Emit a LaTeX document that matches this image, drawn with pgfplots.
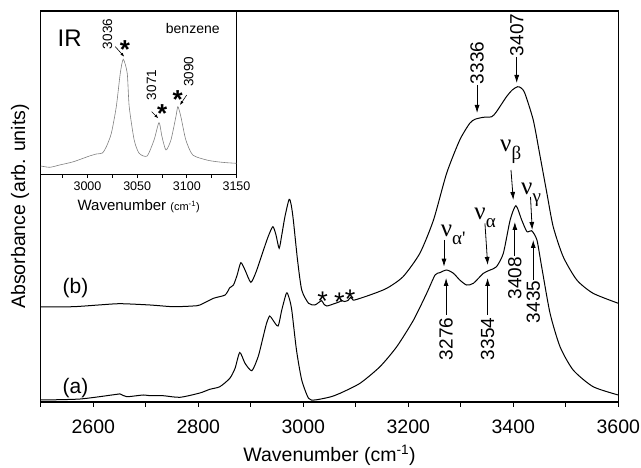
\documentclass[border=0pt]{standalone}
\usepackage{fontspec}
\setmainfont{Liberation Sans}
\newfontfamily\greekfont{Liberation Serif}
\usepackage{pgfplots}
\pgfplotsset{compat=1.18}
\usetikzlibrary{arrows.meta}

% sizes are in pt, one pt for one pixel of the reference
\newcommand{\fs}[1]{\fontsize{#1}{#1}\selectfont}
\newcommand{\nuf}[2]{{\greekfont\fs{25}ν}\raisebox{-8pt}{\greekfont\fs{19}#1}#2}

\begin{document}
\begin{tikzpicture}[x=1pt,y=1pt,
  arr/.style={line width=0.8pt, -{Latex[length=8pt,width=5pt]}},
  iarr/.style={line width=0.6pt, -{Latex[length=4pt,width=3pt]}}]
\path[use as bounding box] (0,0) rectangle (641,468);

\begin{axis}[
  at={(40.8pt,66pt)}, anchor=south west,
  width=577.5pt, height=391pt, scale only axis,
  xmin=2500, xmax=3600, ymin=0, ymax=391,
  xtick={2600,2800,...,3600},
  minor xtick={2500,2700,...,3500},
  xtick pos=bottom, ytick=\empty,
  tick align=outside,
  major tick length=5pt, minor tick length=5pt,
  every tick/.style={black, line width=1pt},
  axis line style={line width=1.2pt},
  ticklabel style={font=\fs{19.5}},
  xticklabel style={yshift=-9pt},
  /pgf/number format/assume math mode=true,
  /pgf/number format/1000 sep={},
  xlabel={Wavenumber (cm\textsuperscript{-1})},
  ylabel={Absorbance (arb. units)},
  label style={font=\fs{19.5}},
  xlabel style={at={(axis description cs:0.5,-0.136)}, anchor=center},
  ylabel style={at={(axis description cs:-0.036,0.5)}, anchor=center},
  clip=false,
]
% (b)
\addplot[black, line width=1pt, smooth, tension=0.4] coordinates {
(2500,95) (2562,95.3) (2610,97) (2651,98.3) (2708,97) (2752,95.3) (2790,96)
(2803,97) (2829,103.7) (2851,107) (2860,114.3) (2867,117) (2874,127) (2881,139.3)
(2889,132) (2900,119.7) (2910,130) (2921,147) (2933,165.3) (2942,175.3) (2948,167)
(2954,153.7) (2959,167) (2965,185.3) (2973,202.7) (2977,197) (2981,182) (2989,142)
(2997,112) (3010,98.7) (3022,97) (3028,99) (3035,101.3) (3039,98) (3045,96)
(3061,98.7) (3068,100) (3073,101.5) (3078,100.5) (3085,101.5) (3090,104.5) (3094,102.5)
(3098,102) (3127,107) (3159,113.7) (3190,125.3) (3222,148.7) (3248,182) (3273,228.7)
(3298,262) (3317,278.7) (3327,282.7) (3343,284.7) (3359,285.3) (3368,290.3) (3387,305.3)
(3398,312) (3408,315.3) (3415,314) (3422,308.7) (3438,282) (3450,248.7) (3464,208.7)
(3476,175.3) (3495,145.3) (3521,122) (3552,108.7) (3600,98.7)
};
% (a)
\addplot[black, line width=1pt, smooth, tension=0.4] coordinates {
(2500,2) (2575,3) (2645,7.7) (2651,8) (2664,5.3) (2695,7) (2708,6.3) (2733,6.3)
(2765,4.7) (2803,9) (2822,12.7) (2841,15.3) (2860,23.7) (2870,33.7) (2879,49.5)
(2889,38.7) (2902,31.3) (2914,45.3) (2923,64) (2930,78.7) (2936,86) (2942,82)
(2952,76) (2959,92) (2968,109) (2973,104) (2978,92) (2987,52) (2997,22) (3010,3.7)
(3022,2) (3051,5) (3070,8.7) (3108,18.7) (3146,35.3) (3178,55.3) (3210,82)
(3235,108.7) (3251,127) (3260,129.3) (3273,132) (3286,128.7) (3298,122) (3311,117)
(3324,118.7) (3343,128.7) (3356,132) (3368,135.3) (3381,148.7) (3394,182) (3405,196.3)
(3416,182) (3426,170.3) (3435,171.3) (3445,162) (3454,135.3) (3470,88.7) (3489,55.3)
(3514,32) (3552,15.3) (3600,7)
};

\node[font=\fs{21}] at (axis cs:2566,114) {(b)};
\node[font=\fs{21}] at (axis cs:2566,14) {(a)};

\node[font=\fs{19}, rotate=90] at (axis cs:3331,339) {3336};
\draw[arr] (axis cs:3331,317) -- (axis cs:3331,289);
\node[font=\fs{19}, rotate=90] at (axis cs:3406.5,367) {3407};
\draw[arr] (axis cs:3406.5,345) -- (axis cs:3406.5,319);

\node[inner sep=0pt, anchor=base west] at (axis cs:3374.7,250) {\nuf{β}{}};
\draw[arr] (axis cs:3395.6,232) -- (axis cs:3400,202);
\node[inner sep=0pt, anchor=base west] at (axis cs:3414.7,207) {\nuf{γ}{}};
\draw[arr] (axis cs:3432.8,205) -- (axis cs:3436,172);
\node[inner sep=0pt, anchor=base west] at (axis cs:3261.7,165.3) {\nuf{α'}{}};
\draw[arr] (axis cs:3268,162) -- (axis cs:3268,135.3);
\node[inner sep=0pt, anchor=base west] at (axis cs:3325.7,182) {\nuf{α}{}};
\draw[arr] (axis cs:3346,178.7) -- (axis cs:3351.2,137);

\node[font=\fs{19}, rotate=90] at (axis cs:3272,63) {3276};
\draw[arr] (axis cs:3272,87) -- (axis cs:3272,124);
\node[font=\fs{19}, rotate=90] at (axis cs:3351,63) {3354};
\draw[arr] (axis cs:3351,87) -- (axis cs:3351,124);
\node[font=\fs{19}, rotate=90] at (axis cs:3403,124) {3408};
\draw[arr] (axis cs:3403,146) -- (axis cs:3403,180);
\node[font=\fs{19}, rotate=90] at (axis cs:3438,100) {3435};
\draw[arr] (axis cs:3438,122) -- (axis cs:3438,162);

\node[font=\fs{27}, inner sep=0pt, anchor=base] at (axis cs:3036.6,91.5) {*};
\node[font=\fs{27}, inner sep=0pt, anchor=base] at (axis cs:3068.6,90.8) {*};
\node[font=\fs{27}, inner sep=0pt, anchor=base] at (axis cs:3089,93.2) {*};
\end{axis}

\begin{axis}[
  at={(40.8pt,293pt)}, anchor=south west,
  width=195.7pt, height=164pt, scale only axis,
  xmin=2953, xmax=3150, ymin=0, ymax=164,
  xtick={3000,3050,3100,3150},
  minor xtick={2975,3025,3075,3125},
  xtick pos=bottom, ytick=\empty,
  tick align=outside,
  major tick length=3pt, minor tick length=3pt,
  every tick/.style={black, line width=0.8pt},
  axis line style={line width=1pt},
  ticklabel style={font=\fs{12.5}},
  /pgf/number format/assume math mode=true,
  /pgf/number format/1000 sep={},
  xlabel={Wavenumber {\fs{11}(cm\textsuperscript{-1})}},
  xlabel style={font=\fs{15}, at={(axis description cs:0.5,-0.189)}, anchor=center},
  clip=false,
]
\addplot[gray, line width=0.6pt, smooth, tension=0.4] coordinates {
(2953,9) (2962,7.7) (2972,10) (2986,13.3) (3002,19) (3009,21) (3015,22) (3019,28.3)
(3024,41.7) (3029,68.3) (3033,101.7) (3036,115.7) (3040,101.7) (3042,68.3) (3047,35)
(3052,21.7) (3060,19) (3067,35) (3072,52.3) (3075,38.3) (3079,25) (3084,35) (3089,58.3)
(3091,68.3) (3094,58.3) (3099,35) (3106,20) (3120,15) (3130,13.3) (3140,12.3) (3150,11.7)
};
\node[font=\fs{24}] at (axis cs:2982,137) {IR};
\node[font=\fs{14}] at (axis cs:3106,146.3) {benzene};

\node[font=\fs{13.5}, rotate=90] at (axis cs:3020,141) {3036};
\node[font=\bfseries\fs{26}, inner sep=0pt, anchor=base] at (axis cs:3037.8,116.8) {*};
\draw[iarr] (axis cs:3028,128.3) -- (axis cs:3037,118.3);
\node[font=\fs{13.5}, rotate=90] at (axis cs:3064.4,90) {3071};
\node[font=\bfseries\fs{26}, inner sep=0pt, anchor=base] at (axis cs:3075.3,52.8) {*};
\draw[iarr] (axis cs:3064.6,63.3) -- (axis cs:3071.3,56.7);
\node[font=\fs{13.5}, rotate=90] at (axis cs:3102,103.3) {3090};
\node[font=\bfseries\fs{26}, inner sep=0pt, anchor=base] at (axis cs:3090.8,66.8) {*};
\draw[iarr] (axis cs:3099.9,80) -- (axis cs:3093.1,70);
\end{axis}
\end{tikzpicture}
\end{document}
